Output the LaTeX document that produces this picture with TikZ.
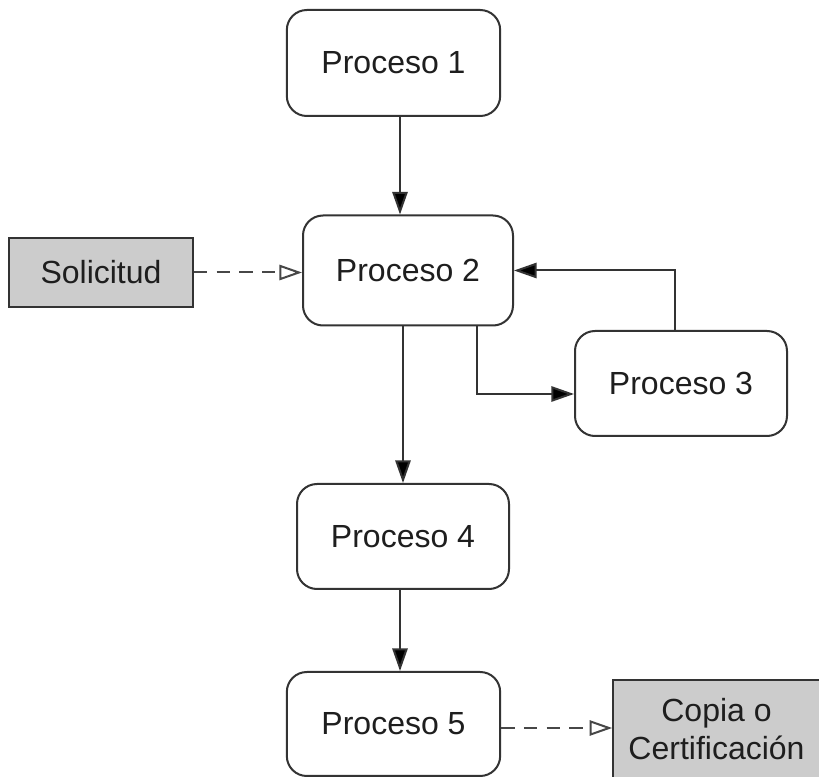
\documentclass[tikz,border=0pt]{standalone}
\usepackage{fontspec}
\setmainfont{Liberation Sans}
\usetikzlibrary{arrows.meta,calc}
\definecolor{linegray}{HTML}{333333}
\definecolor{boxgray}{HTML}{CCCCCC}
\definecolor{textgray}{HTML}{1E1E1E}
\begin{document}
\begin{tikzpicture}[x=0.75pt,y=-0.75pt,
  proc/.style={draw=linegray, line width=1.5pt, rounded corners=15pt, fill=white,
    text=textgray, font=\fontsize{24}{28}\selectfont, inner sep=0pt},
  docbox/.style={draw=linegray, line width=1.5pt, fill=boxgray,
    text=textgray, font=\fontsize{24}{28}\selectfont, inner sep=0pt, align=center},
  flow/.style={draw=linegray, line width=1.5pt,
    -{Triangle[length=17pt,width=11.5pt,fill=black]}},
  dataflow/.style={draw=linegray!90, line width=1.5pt, dash pattern=on 10pt off 7pt,
    -{Triangle[open,length=17pt,width=11.5pt,fill=white]}}]
\useasboundingbox (0,0) rectangle (819,777);
\fill[white] (0,0) rectangle (819,777);

% process boxes
\node[proc, minimum width=160pt, minimum height=79.5pt] (p1) at (393.5,63) {Proceso 1};
\node[proc, minimum width=157.5pt, minimum height=82.5pt] (p2) at (408,270.5) {Proceso 2};
\node[proc, minimum width=159pt, minimum height=78.75pt] (p3) at (681,383.5) {Proceso 3};
\node[proc, minimum width=159pt, minimum height=78.75pt] (p4) at (403,536.5) {Proceso 4};
\node[proc, minimum width=160pt, minimum height=78pt] (p5) at (393.5,724) {Proceso 5};

% document boxes
\node[docbox, minimum width=138pt, minimum height=51.75pt] (sol) at (101,272.5) {Solicitud};
\node[docbox, minimum width=155pt, minimum height=73.5pt] (copia) at (716.5,729) {Copia o\\Certificación};

% connectors
\draw[flow] (p1.south -| 400,0) -- (p2.north -| 400,0);
\draw[flow] ($(p2.south)+(-5,0)$) -- (p4.north);
\draw[flow] (p4.south -| 400,0) -- (p5.north -| 400,0);
\draw[flow] ($(p2.south)+(69,0)$) |- ($(p3.west)+(0,10.5)$);
\draw[flow] ($(p3.north)+(-6,0)$) |- (p2.east);
\draw[dataflow] (sol.east) -- (sol.east -| p2.west);
\draw[dataflow] ($(p5.east)+(0,4)$) -- ($(p5.east -| copia.west)+(0,4)$);
\end{tikzpicture}
\end{document}
